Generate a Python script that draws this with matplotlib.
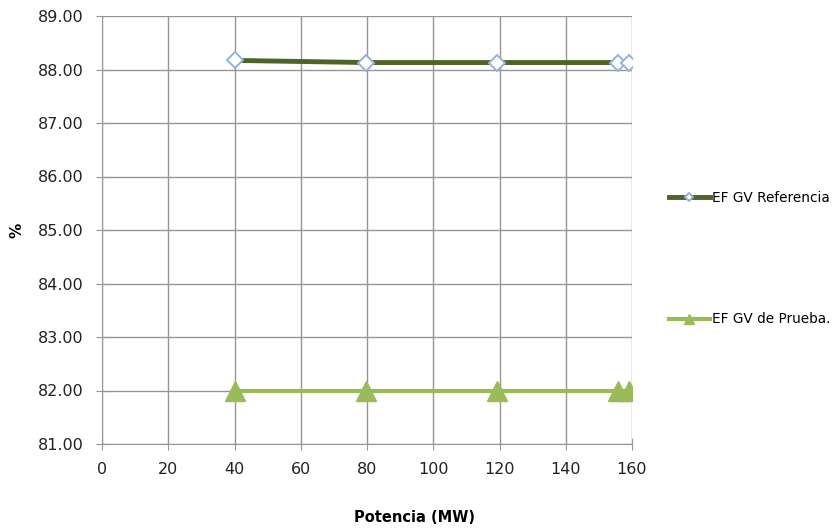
import numpy as np
import matplotlib.pyplot as plt

# Potencia (MW) y eficiencia del generador de vapor (%)
potencia = [40, 79.6, 119.3, 155.7, 159.0]
ef_referencia = [88.17, 88.13, 88.13, 88.13, 88.12]
ef_prueba = [82.00, 82.00, 82.00, 82.00, 82.00]

x_ticks = np.arange(0, 161, 20)
y_ticks = np.arange(81, 89.01, 1)

fig = plt.figure(figsize=(8.35, 5.31), dpi=100)
ax = fig.add_axes([102 / 835, 1 - 444 / 531, 530 / 835, 428 / 531])

ax.plot(potencia, ef_referencia, color='#4F6228', lw=3.5, marker='D', ms=8,
        mfc='white', mec='#95B3D7', mew=1.4, label='EF GV Referencia', zorder=3)
ax.plot(potencia, ef_prueba, color='#9BBB59', lw=3, marker='^', ms=14,
        mfc='#9BBB59', mec='#9BBB59', label='EF GV de Prueba.', zorder=3)

ax.set_xlim(0, 160)
ax.set_ylim(81, 89)
ax.set_xticks(x_ticks)
ax.set_yticks(y_ticks)
ax.set_yticklabels(['%.2f' % v for v in y_ticks])
ax.grid(True, color='#969696', lw=1)
ax.set_axisbelow(True)
for s in ['top', 'right']:
    ax.spines[s].set_visible(False)
for s in ['left', 'bottom']:
    ax.spines[s].set_color('#969696')
ax.tick_params(direction='inout', length=8, color='#969696', labelsize=11.5,
               labelcolor='#222222')
ax.tick_params(axis='x', pad=9)
ax.tick_params(axis='y', pad=9)

ax.set_ylabel('%', fontsize=11, fontweight='bold', labelpad=10)
fig.text(415 / 835, 1 - 517 / 531, 'Potencia (MW)', ha='center', va='center',
         fontsize=10.5, fontweight='bold')

fig.legend(loc='upper left', bbox_to_anchor=(662 / 835, 1 - 184 / 531),
           frameon=False, fontsize=9.8, labelspacing=7.9, handlelength=3.0,
           handletextpad=0.2, markerscale=0.55, borderpad=0)

fig.savefig('out.png', dpi=100)
